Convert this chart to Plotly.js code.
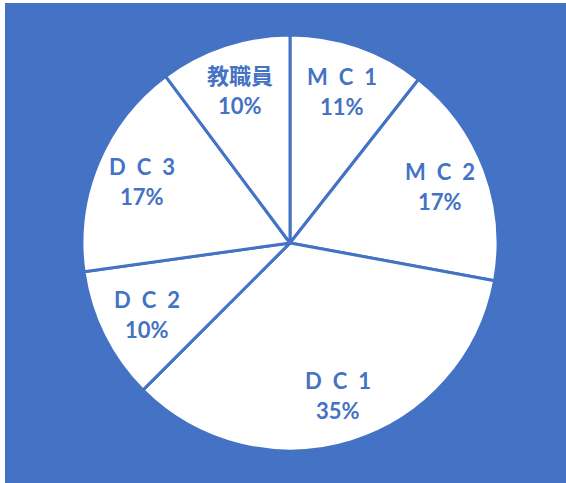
<!DOCTYPE html>
<html><head><meta charset="utf-8">
<script src="https://cdn.plot.ly/plotly-3.0.1.min.js"></script>
<style>html,body{margin:0;padding:0;background:#fff;overflow:hidden}
#chart{position:absolute;left:5px;top:3px;width:561px;height:480px}</style>
</head><body><div id="chart"></div>
<script>
const labels = ["M\u2002C\u20021", "M\u2002C\u20022", "D\u2002C\u20021", "D\u2002C\u20022", "D\u2002C\u20023", "教職員"];
const values = [10.6, 17.3, 34.6, 10.3, 17.0, 10.2];
const blue = "#4472C4";
const W = 561, H = 480;
const cx = 285, cy = 240, R = 208;   // pie centre/radius in px within the div
const labelRadius = 0.77;
const font = {family: "Lato, 'Noto Sans CJK JP', sans-serif", size: 22, color: blue, weight: "bold"};

const total = values.reduce((a, b) => a + b, 0);
const annotations = [];
let cum = 0;
values.forEach((v, i) => {
  const mid = (cum + v / 2) / total * 2 * Math.PI;
  cum += v;
  const px = cx + labelRadius * R * Math.sin(mid);
  const py = cy - labelRadius * R * Math.cos(mid);
  const pct = Math.round(v / total * 100) + "%";
  const base = {xref: "paper", yref: "paper", x: px / W, y: 1 - py / H,
    xanchor: "center", yanchor: "middle", showarrow: false, font: font};
  annotations.push(Object.assign({}, base, {text: labels[i], yshift: 15}));
  annotations.push(Object.assign({}, base, {text: pct, yshift: -15}));
});

const data = [{
  type: "pie",
  labels: labels,
  values: values,
  sort: false,
  direction: "clockwise",
  rotation: 0,
  marker: {colors: labels.map(() => "#ffffff"), line: {color: blue, width: 3}},
  textinfo: "none",
  hoverinfo: "none",
  domain: {x: [(cx - R) / W, (cx + R) / W], y: [(H - cy - R) / H, (H - cy + R) / H]},
  showlegend: false
}];
const layout = {
  width: W, height: H,
  margin: {l: 0, r: 0, t: 0, b: 0},
  paper_bgcolor: blue,
  annotations: annotations
};
Plotly.newPlot("chart", data, layout, {displayModeBar: false, staticPlot: true});
</script></body></html>
